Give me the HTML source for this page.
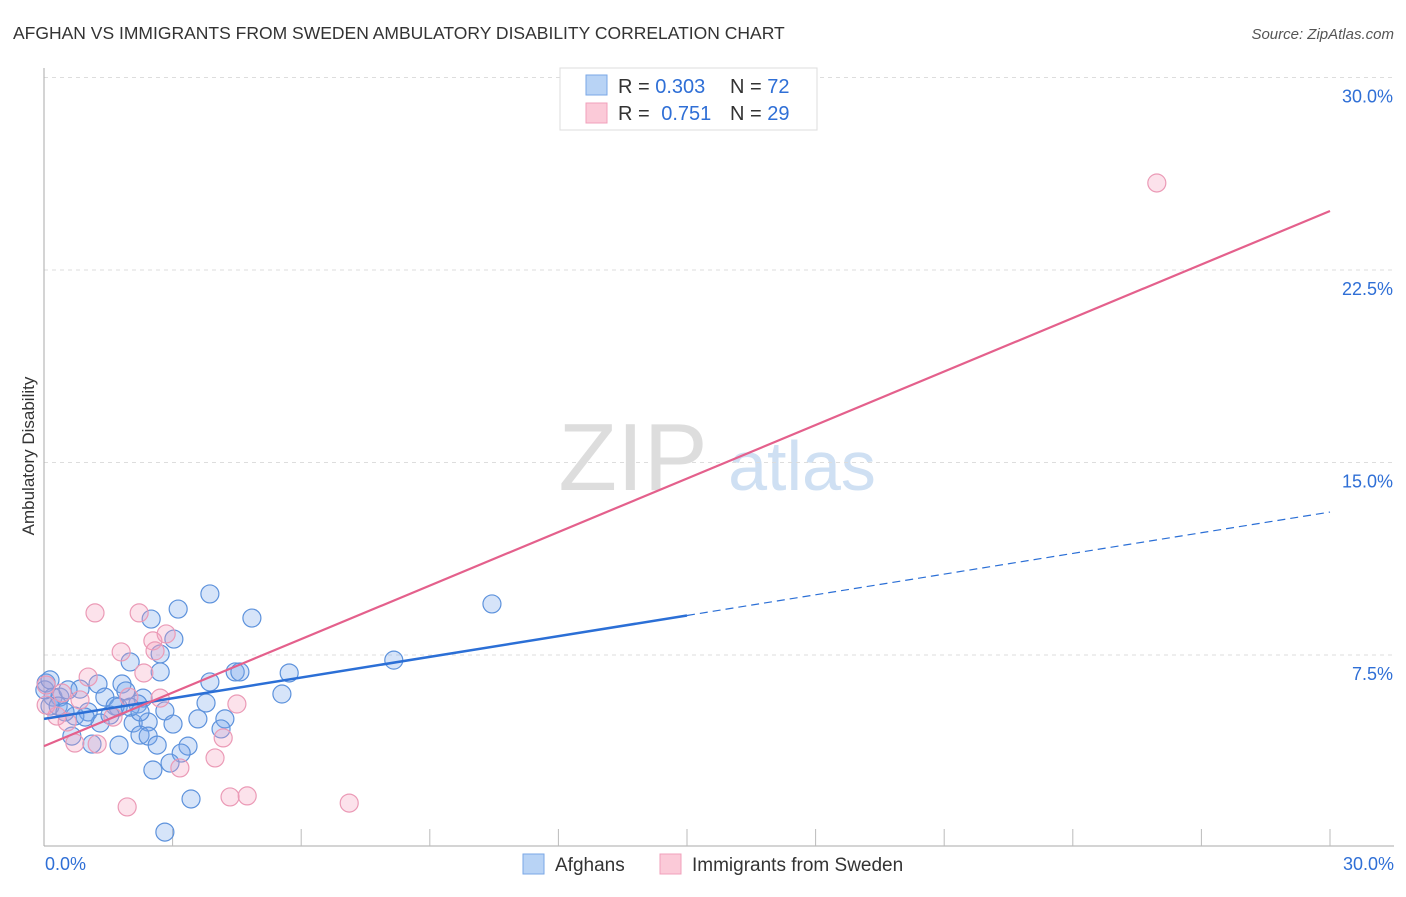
<!DOCTYPE html>
<html><head><meta charset="utf-8"><style>
body{margin:0;background:#fff;font-family:"Liberation Sans",sans-serif;}
svg text{font-family:"Liberation Sans",sans-serif;}
</style></head><body>
<svg id="chart" width="1406" height="892" xmlns="http://www.w3.org/2000/svg">
<text x="13" y="39" font-size="17.5" fill="#333">AFGHAN VS IMMIGRANTS FROM SWEDEN AMBULATORY DISABILITY CORRELATION CHART</text>
<text x="1394" y="39" font-size="15" fill="#555" text-anchor="end" font-style="italic">Source: ZipAtlas.com</text>
<text transform="translate(34,456) rotate(-90)" font-size="17" fill="#333" text-anchor="middle">Ambulatory Disability</text>
<g>
<text x="633" y="490" font-size="96" fill="#ddd" text-anchor="middle" font-family="Liberation Serif">ZIP</text>
<text x="802" y="490" font-size="70" fill="#cfe0f3" text-anchor="middle">atlas</text>
</g>
<g id="grid"></g><g id="axes"></g><g id="points"></g><g id="lines"></g>
<g>
<rect x="560" y="68" width="257" height="62" fill="#fff" stroke="#ddd"/>
<rect x="586" y="75" width="21" height="20" fill="#b8d3f5" stroke="#7aa7e6"/>
<rect x="586" y="103" width="21" height="20" fill="#fbcad8" stroke="#f0a0bb"/>
<text x="618" y="93" font-size="20" fill="#333">R = <tspan fill="#2f6fd6">0.303</tspan></text>
<text x="730" y="93" font-size="20" fill="#333">N = <tspan fill="#2f6fd6">72</tspan></text>
<text x="618" y="120" font-size="20" fill="#333">R = <tspan fill="#2f6fd6" dx="6">0.751</tspan></text>
<text x="730" y="120" font-size="20" fill="#333">N = <tspan fill="#2f6fd6">29</tspan></text>
</g>
<g>
<rect x="523" y="854" width="21" height="20" fill="#b8d3f5" stroke="#7aa7e6"/>
<text x="555" y="871" font-size="19" fill="#333">Afghans</text>
<rect x="660" y="854" width="21" height="20" fill="#fbcad8" stroke="#f0a0bb"/>
<text x="692" y="871" font-size="19" fill="#333">Immigrants from Sweden</text>
</g>
</svg>
<script>
const yTicks=[7.5,15,22.5,30];
const yTickLabels=["7.5%","15.0%","22.5%","30.0%"];
const xTickCount=10;
const xLabels=["0.0%","30.0%"];
const afghanX=[3.87,3.13,4.85,2.50,3.03,2.71,2.01,2.71,4.46,4.57,5.72,3.87,1.82,1.26,0.84,0.05,0.21,0.37,1.42,1.91,2.31,5.55,3.78,2.82,2.19,1.73,1.03,0.72,0.14,1.31,2.08,2.43,3.01,3.59,4.22,4.13,0.65,2.24,2.43,1.12,1.75,2.64,3.36,3.20,2.94,2.54,3.43,2.82,8.16,10.45,1.66,2.01,0.33,0.49,0.02,0.14,0.96,1.54,2.24,0.56];
const afghanY=[9.88,9.29,8.94,8.90,8.12,7.54,7.23,6.84,6.84,6.84,6.80,6.45,6.37,6.37,6.17,6.41,5.86,5.86,5.86,6.10,5.82,5.98,5.63,5.32,5.59,5.47,5.28,5.12,5.51,4.85,4.85,4.89,4.81,5.01,5.01,4.62,4.34,4.38,4.34,4.03,3.99,3.99,3.95,3.68,3.29,3.02,1.89,0.60,7.30,9.49,5.51,5.47,5.51,5.28,6.14,6.53,5.08,5.16,5.28,6.14];
const swedenX=[25.96,1.19,2.22,2.54,2.85,2.59,1.80,2.33,1.03,1.98,0.42,4.50,1.61,0.30,1.24,0.72,4.18,3.99,3.17,4.34,4.74,7.12,1.94,0.05,2.71,0.54,0.84,0.05];
const swedenY=[25.89,9.14,9.14,8.05,8.32,7.66,7.62,6.80,6.64,5.86,6.02,5.59,5.08,5.12,4.03,4.07,4.27,3.49,3.10,1.97,2.01,1.73,1.58,6.33,5.82,4.89,5.75,5.55];
const afghanTrend=[5.01,13.07];
const swedenTrend=[3.95,24.80];
const solidEnd=15;
const NS="http://www.w3.org/2000/svg";
const X=v=>44+v/30*1286;
const Y=v=>847.5-v/7.5*192.5;
function mk(tag,attrs,parent){const e=document.createElementNS(NS,tag);for(const k in attrs)e.setAttribute(k,attrs[k]);document.getElementById(parent).appendChild(e);return e;}
yTicks.forEach((t,i)=>{
 const g=mk('line',{x1:44,x2:1394,y1:Y(t),y2:Y(t),stroke:'#ddd','stroke-dasharray':'4,4'},'grid');
 
 
 const l=mk('text',{x:1393,y:Y(t)+25,'font-size':18,fill:'#2f6fd6','text-anchor':'end'},'axes');
 l.textContent=yTickLabels[i];
 
 
});
const ya=mk('line',{x1:44,x2:44,y1:68,y2:846,stroke:'#aaa'},'axes');


const xa=mk('line',{x1:44,x2:1394,y1:846,y2:846,stroke:'#aaa'},'axes');


for(let i=1;i<=xTickCount;i++){const v=30*i/xTickCount;
 const t=mk('line',{x1:X(v),x2:X(v),y1:829,y2:846,stroke:'#bbb'},'axes');
 
 }
const xl0=mk('text',{x:45,y:870,'font-size':18,fill:'#2f6fd6'},'axes');
xl0.textContent=xLabels[0];


const xl1=mk('text',{x:1394,y:870,'font-size':18,fill:'#2f6fd6','text-anchor':'end'},'axes');
xl1.textContent=xLabels[1];


afghanX.forEach((x,i)=>{const c=mk('circle',{cx:X(x),cy:Y(afghanY[i]),r:9,fill:'rgba(120,165,235,0.3)',stroke:'#5d92dc','stroke-width':1.2},'points');
 
 });
swedenX.forEach((x,i)=>{const c=mk('circle',{cx:X(x),cy:Y(swedenY[i]),r:9,fill:'rgba(245,160,190,0.3)',stroke:'#eb9ab6','stroke-width':1.2},'points');
 
 });
const ay=x=>afghanTrend[0]+(afghanTrend[1]-afghanTrend[0])*x/30;
const l1=mk('line',{x1:X(0),y1:Y(ay(0)),x2:X(solidEnd),y2:Y(ay(solidEnd)),stroke:'#2b6fd6','stroke-width':2.5},'lines');


const l2=mk('line',{x1:X(solidEnd),y1:Y(ay(solidEnd)),x2:X(30),y2:Y(ay(30)),stroke:'#2b6fd6','stroke-width':1.2,'stroke-dasharray':'8,5'},'lines');


const l3=mk('line',{x1:X(0),y1:Y(swedenTrend[0]),x2:X(30),y2:Y(swedenTrend[1]),stroke:'#e4608c','stroke-width':2.2},'lines');


</script>
</body></html>
